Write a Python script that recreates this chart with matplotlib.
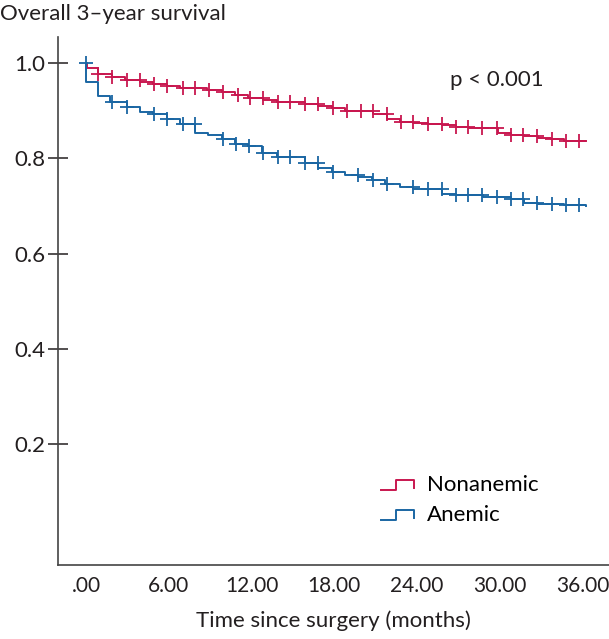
import numpy as np
import matplotlib
matplotlib.use("Agg")
import matplotlib.pyplot as plt
from matplotlib.legend_handler import HandlerBase
from matplotlib.lines import Line2D

plt.rcParams['font.family'] = ['Lato', 'DejaVu Sans']

# Nonanemic: step times (months) and survival after each step
non_t = [0.0, 0.05, 0.87, 1.89, 2.83, 3.92, 4.86, 5.88, 6.82, 8.78, 9.87, 10.81,
         11.76, 12.84, 13.86, 15.89, 16.84, 17.85, 18.8, 20.83, 21.84, 22.79,
         23.73, 24.75, 25.83, 26.78, 27.72, 29.83, 30.77, 31.71, 32.73, 33.67,
         34.62, 36.2]
non_s = [1.0, 0.990, 0.978, 0.971, 0.964, 0.961, 0.957, 0.952, 0.948, 0.943,
         0.940, 0.934, 0.928, 0.922, 0.919, 0.915, 0.910, 0.905, 0.900, 0.893,
         0.882, 0.877, 0.875, 0.873, 0.870, 0.866, 0.864, 0.854, 0.850, 0.847,
         0.844, 0.840, 0.837, 0.836]
non_cens = [0.9, 1.9, 3.0, 3.9, 4.9, 5.9, 7.0, 7.9, 8.9, 9.9, 11.0, 11.9, 12.8,
            13.9, 14.8, 15.9, 16.8, 17.9, 18.9, 19.9, 20.8, 21.8, 22.8, 23.7,
            24.8, 25.8, 26.8, 27.7, 28.7, 29.8, 30.8, 31.7, 32.7, 33.8, 34.8,
            35.7]

# Anemic
ane_t = [0.0, 0.01, 0.87, 1.74, 2.98, 3.92, 4.86, 5.88, 6.82, 7.91, 8.85, 9.87,
         10.81, 11.76, 12.77, 13.86, 15.89, 16.84, 17.85, 18.8, 19.74, 20.75,
         21.7, 22.79, 23.73, 25.83, 26.78, 28.74, 30.77, 31.71, 32.73, 34.62,
         36.2]
ane_s = [1.0, 0.961, 0.931, 0.919, 0.908, 0.898, 0.893, 0.882, 0.873, 0.854,
         0.849, 0.840, 0.830, 0.826, 0.812, 0.803, 0.791, 0.781, 0.772, 0.765,
         0.760, 0.754, 0.747, 0.739, 0.735, 0.726, 0.724, 0.718, 0.714, 0.707,
         0.705, 0.702, 0.700]
ane_cens = [0.0, 1.9, 3.0, 4.9, 5.9, 7.0, 7.9, 9.9, 10.9, 11.8, 12.8, 13.9,
            14.8, 15.9, 16.8, 17.9, 19.7, 20.8, 21.8, 23.7, 24.8, 25.8, 26.8,
            27.7, 28.7, 29.8, 30.8, 31.7, 32.7, 33.8, 34.8, 35.7]

red = '#c8174f'
blue = '#1a66a3'
ink = '#231f20'
fs = 16


def surv_at(t, times, surv):
    idx = np.searchsorted(times, t, side='right') - 1
    return surv[max(idx, 0)]


class StepHandler(HandlerBase):
    def create_artists(self, legend, orig, xd, yd, w, h, fontsize, trans):
        xs = [xd, xd + w * 0.45, xd + w * 0.45, xd + w, xd + w]
        ys = [yd + h * 0.1, yd + h * 0.1, yd + h * 0.75, yd + h * 0.75, yd + h * 0.2]
        ln = Line2D(xs, ys, color=orig.get_color(), lw=1.4, transform=trans)
        return [ln]


fig = plt.figure(figsize=(6.09, 6.39), dpi=100)
ax = fig.add_axes([0.0952, 0.1158, 0.9048, 0.8262])

for times, surv, cens, col, lab in [(non_t, non_s, non_cens, red, 'Nonanemic'),
                                    (ane_t, ane_s, ane_cens, blue, 'Anemic')]:
    ln, = ax.step(times, surv, where='post', color=col, lw=1.4, label=lab)
    cy = [surv_at(c, times, surv) for c in cens]
    ax.plot(cens, cy, ls='none', marker='+', ms=10, mew=1.3, color=col)

ax.set_xlim(-2.03, 37.9)
ax.set_ylim(-0.054, 1.055)
ax.set_xticks([0, 6, 12, 18, 24, 30, 36])
ax.set_xticklabels(['.00', '6.00', '12.00', '18.00', '24.00', '30.00', '36.00'])
ax.set_yticks([0.2, 0.4, 0.6, 0.8, 1.0])
ax.set_yticklabels(['0.2', '0.4', '0.6', '0.8', '1.0'])
ax.tick_params(axis='x', length=0, labelsize=15, pad=8, colors=ink)
ax.tick_params(axis='y', direction='inout', length=14, width=1.1,
               labelsize=fs, pad=2, colors=ink)
for s in ['top', 'right']:
    ax.spines[s].set_visible(False)
for s in ['left', 'bottom']:
    ax.spines[s].set_linewidth(1.2)
    ax.spines[s].set_color('#444444')

ax.set_xlabel('Time since surgery (months)', fontsize=fs, labelpad=10,
              color=ink)
ax.text(29.8, 0.964, 'p < 0.001', fontsize=fs, ha='center', va='center',
        color=ink)
fig.text(0.0, 0.978, 'Overall 3\u2013year survival', fontsize=fs, ha='left',
         va='center', color=ink)

h, l = ax.get_legend_handles_labels()
ax.legend(h, l, handler_map={Line2D: StepHandler()}, loc='lower left',
          bbox_to_anchor=(0.55, 0.037), frameon=False, fontsize=fs,
          handlelength=1.5, handletextpad=0.55, labelspacing=0.45)

fig.savefig('out.png', dpi=100)
